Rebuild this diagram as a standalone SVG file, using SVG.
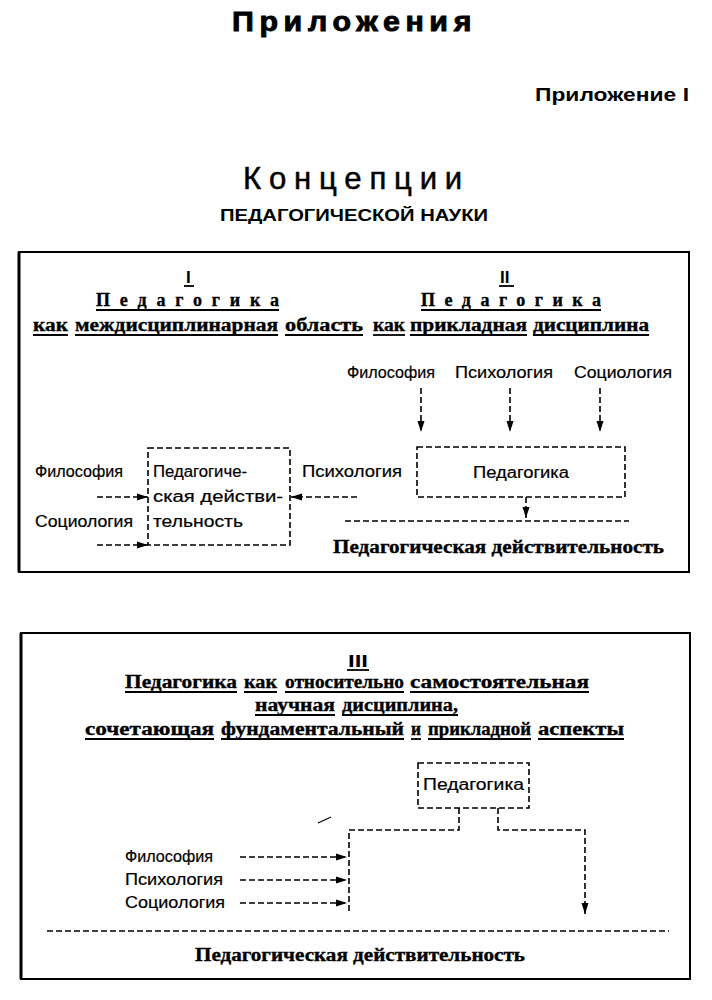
<svg xmlns="http://www.w3.org/2000/svg" width="712" height="1000" viewBox="0 0 712 1000">
<style>
.sans{font-family:"Liberation Sans",Arial,sans-serif;fill:#000}
.serif{font-family:"Liberation Serif","Times New Roman",serif;font-weight:bold;fill:#000}
.lbl{font-family:"Liberation Sans",Arial,sans-serif;font-size:16px;fill:#000;stroke:#000;stroke-width:0.2}
.hd{font-family:"Liberation Serif","Times New Roman",serif;font-weight:bold;font-size:18px;fill:#000;stroke:#000;stroke-width:0.35}
.ul{stroke:#000;stroke-width:1.8}
.frame{fill:none;stroke:#000;stroke-width:2}
.dash{fill:none;stroke:#000;stroke-width:1.6;stroke-dasharray:6 3}
.conn{fill:none;stroke:#000;stroke-width:1.6;stroke-dasharray:6 3}
</style>
<defs>
<marker id="ah" markerUnits="userSpaceOnUse" markerWidth="12" markerHeight="8" refX="11" refY="4" orient="auto">
<path d="M0,0.5 L11,4 L0,7.5 z" fill="#000"/>
</marker>
</defs>

<g id="titles">
<text class="sans" x="232" y="31" font-size="27" font-weight="bold" stroke="#000" stroke-width="0.9" letter-spacing="5" textLength="245" lengthAdjust="spacingAndGlyphs">Приложения</text>
<text class="sans" x="535" y="101" font-size="18" font-weight="bold" textLength="154" lengthAdjust="spacingAndGlyphs">Приложение I</text>
<text class="sans" x="243" y="189" font-size="32" stroke="#000" stroke-width="0.5" letter-spacing="8" textLength="227" lengthAdjust="spacingAndGlyphs">Концепции</text>
<text class="sans" x="220" y="221" font-size="16" font-weight="bold" textLength="268" lengthAdjust="spacingAndGlyphs">ПЕДАГОГИЧЕСКОЙ НАУКИ</text>
</g>

<g id="panel1">
<rect class="frame" x="19" y="252" width="670" height="320"/>
<line x1="19" y1="252" x2="19" y2="572" stroke="#000" stroke-width="3"/>
<g id="heading-I">
<text class="sans" x="186" y="283" font-size="17" font-weight="bold">I</text>
<line class="ul" x1="184" y1="286" x2="194" y2="286"/>
<text class="hd" x="96" y="306" textLength="183" lengthAdjust="spacing">Педагогика</text>
<line class="ul" x1="96" y1="310" x2="279" y2="310"/>
<text class="hd" x="33" y="331" textLength="35" lengthAdjust="spacingAndGlyphs">как</text>
<line class="ul" x1="33" y1="335" x2="68" y2="335"/>
<text class="hd" x="75" y="331" textLength="203" lengthAdjust="spacingAndGlyphs">междисциплинарная</text>
<line class="ul" x1="75" y1="335" x2="278" y2="335"/>
<text class="hd" x="285" y="331" textLength="78" lengthAdjust="spacingAndGlyphs">область</text>
<line class="ul" x1="285" y1="335" x2="363" y2="335"/>
</g>
<g id="heading-II">
<text class="sans" x="500" y="283" font-size="17" font-weight="bold">II</text>
<line class="ul" x1="499" y1="286" x2="514" y2="286"/>
<text class="hd" x="421" y="306" textLength="180" lengthAdjust="spacing">Педагогика</text>
<line class="ul" x1="421" y1="310" x2="601" y2="310"/>
<text class="hd" x="373" y="331" textLength="32" lengthAdjust="spacingAndGlyphs">как</text>
<line class="ul" x1="373" y1="335" x2="405" y2="335"/>
<text class="hd" x="410" y="331" textLength="117" lengthAdjust="spacingAndGlyphs">прикладная</text>
<line class="ul" x1="410" y1="335" x2="527" y2="335"/>
<text class="hd" x="533" y="331" textLength="116" lengthAdjust="spacingAndGlyphs">дисциплина</text>
<line class="ul" x1="533" y1="335" x2="649" y2="335"/>
</g>
<g id="n-phil2"><text class="lbl" x="347" y="378" textLength="88" lengthAdjust="spacingAndGlyphs">Философия</text></g>
<g id="n-psy2"><text class="lbl" x="455" y="378" textLength="98" lengthAdjust="spacingAndGlyphs">Психология</text></g>
<g id="n-soc2"><text class="lbl" x="574" y="378" textLength="98" lengthAdjust="spacingAndGlyphs">Социология</text></g>
<g id="n-ped2">
<rect class="dash" x="417" y="447" width="208" height="50"/>
<text class="lbl" x="473" y="478" textLength="96" lengthAdjust="spacingAndGlyphs">Педагогика</text>
</g>
<g id="n-real2">
<line class="dash" x1="345" y1="521" x2="629" y2="521"/>
<text class="hd" x="333" y="553" textLength="331" lengthAdjust="spacingAndGlyphs">Педагогическая действительность</text>
</g>
<g id="n-real1">
<rect class="dash" x="148" y="448" width="142" height="97"/>
<text class="lbl" x="153" y="477" textLength="94" lengthAdjust="spacingAndGlyphs">Педагогиче-</text>
<text class="lbl" x="153" y="502" textLength="130" lengthAdjust="spacingAndGlyphs">ская действи-</text>
<text class="lbl" x="153" y="527" textLength="90" lengthAdjust="spacingAndGlyphs">тельность</text>
</g>
<g id="n-phil1"><text class="lbl" x="35" y="477" textLength="88" lengthAdjust="spacingAndGlyphs">Философия</text></g>
<g id="n-soc1"><text class="lbl" x="35" y="527" textLength="98" lengthAdjust="spacingAndGlyphs">Социология</text></g>
<g id="n-psy1"><text class="lbl" x="302" y="477" textLength="100" lengthAdjust="spacingAndGlyphs">Психология</text></g>
</g>

<g id="panel3">
<rect class="frame" x="21" y="633" width="669" height="346"/>
<line x1="21" y1="633" x2="21" y2="979" stroke="#000" stroke-width="3"/>
<g id="heading-III">
<text class="sans" x="348" y="667" font-size="17" font-weight="bold" textLength="20" lengthAdjust="spacingAndGlyphs">III</text>
<line class="ul" x1="347" y1="670" x2="369" y2="670"/>
<text class="hd" x="125" y="688" textLength="112" lengthAdjust="spacingAndGlyphs">Педагогика</text>
<line class="ul" x1="125" y1="692" x2="237" y2="692"/>
<text class="hd" x="244" y="688" textLength="33" lengthAdjust="spacingAndGlyphs">как</text>
<line class="ul" x1="244" y1="692" x2="277" y2="692"/>
<text class="hd" x="285" y="688" textLength="119" lengthAdjust="spacingAndGlyphs">относительно</text>
<line class="ul" x1="285" y1="692" x2="404" y2="692"/>
<text class="hd" x="410" y="688" textLength="179" lengthAdjust="spacingAndGlyphs">самостоятельная</text>
<line class="ul" x1="410" y1="692" x2="589" y2="692"/>
<text class="hd" x="255" y="711" textLength="80" lengthAdjust="spacingAndGlyphs">научная</text>
<line class="ul" x1="255" y1="715" x2="335" y2="715"/>
<text class="hd" x="342" y="711" textLength="116" lengthAdjust="spacingAndGlyphs">дисциплина,</text>
<line class="ul" x1="342" y1="715" x2="458" y2="715"/>
<text class="hd" x="85" y="735" textLength="129" lengthAdjust="spacingAndGlyphs">сочетающая</text>
<line class="ul" x1="85" y1="739" x2="214" y2="739"/>
<text class="hd" x="221" y="735" textLength="183" lengthAdjust="spacingAndGlyphs">фундаментальный</text>
<line class="ul" x1="221" y1="739" x2="404" y2="739"/>
<text class="hd" x="411" y="735" textLength="10" lengthAdjust="spacingAndGlyphs">и</text>
<line class="ul" x1="411" y1="739" x2="421" y2="739"/>
<text class="hd" x="428" y="735" textLength="103" lengthAdjust="spacingAndGlyphs">прикладной</text>
<line class="ul" x1="428" y1="739" x2="531" y2="739"/>
<text class="hd" x="538" y="735" textLength="86" lengthAdjust="spacingAndGlyphs">аспекты</text>
<line class="ul" x1="538" y1="739" x2="624" y2="739"/>
</g>
<g id="n-ped3">
<rect class="dash" x="418" y="763" width="111" height="45"/>
<text class="lbl" x="423" y="790" textLength="101" lengthAdjust="spacingAndGlyphs">Педагогика</text>
</g>
<g id="n-phil3"><text class="lbl" x="125" y="862" textLength="88" lengthAdjust="spacingAndGlyphs">Философия</text></g>
<g id="n-psy3"><text class="lbl" x="125" y="885" textLength="98" lengthAdjust="spacingAndGlyphs">Психология</text></g>
<g id="n-soc3"><text class="lbl" x="125" y="908" textLength="100" lengthAdjust="spacingAndGlyphs">Социология</text></g>
<g id="n-real3">
<line class="dash" x1="47" y1="931" x2="669" y2="931"/>
<text class="hd" x="195" y="961" textLength="330" lengthAdjust="spacingAndGlyphs">Педагогическая действительность</text>
</g>
<line x1="318" y1="823" x2="331" y2="817" stroke="#000" stroke-width="1.2"/>
</g>

<g id="connectors">
<line class="conn" x1="421" y1="388" x2="421" y2="432" marker-end="url(#ah)"/>
<line class="conn" x1="510" y1="388" x2="510" y2="432" marker-end="url(#ah)"/>
<line class="conn" x1="600" y1="388" x2="600" y2="432" marker-end="url(#ah)"/>
<line class="conn" x1="526" y1="497" x2="526" y2="518" marker-end="url(#ah)"/>
<line class="conn" x1="97" y1="497" x2="148" y2="497" marker-end="url(#ah)"/>
<line class="conn" x1="97" y1="545" x2="148" y2="545" marker-end="url(#ah)"/>
<line class="conn" x1="357" y1="497" x2="291" y2="497" marker-end="url(#ah)"/>
<path class="conn" d="M459,808 V830 H349 V913"/>
<path class="conn" d="M498,808 V830 H585 V914" marker-end="url(#ah)"/>
<line class="conn" x1="240" y1="857" x2="347" y2="857" marker-end="url(#ah)"/>
<line class="conn" x1="240" y1="880" x2="347" y2="880" marker-end="url(#ah)"/>
<line class="conn" x1="240" y1="903" x2="347" y2="903" marker-end="url(#ah)"/>
</g>
</svg>
